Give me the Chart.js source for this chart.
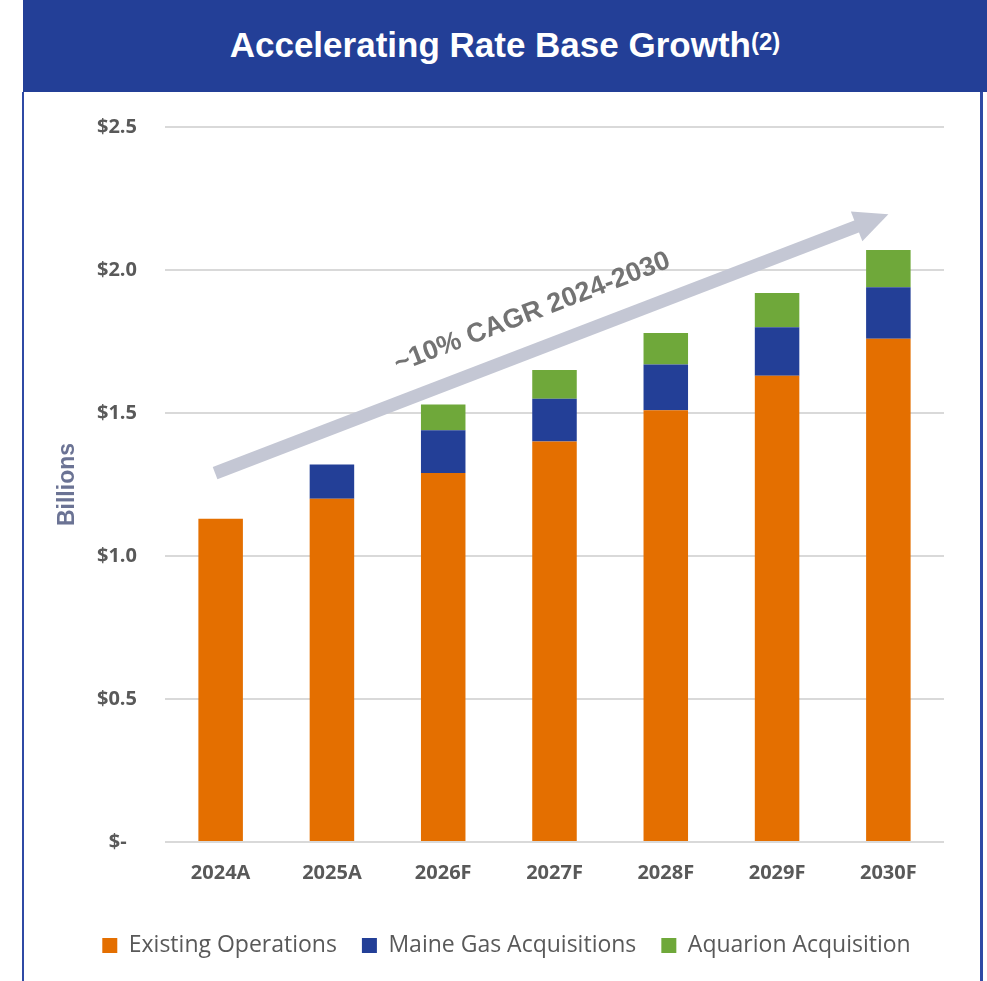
<!DOCTYPE html>
<html>
<head>
<meta charset="utf-8">
<script src="https://cdn.jsdelivr.net/npm/chart.js@4/dist/chart.umd.min.js"></script>
<style>
    html, body { margin: 0; padding: 0; background: #fff; }
    body { width: 987px; height: 981px; position: relative; overflow: hidden; }
    #header {
        position: absolute; left: 23px; top: 0; width: 964px; height: 92px;
        background: #233f97; color: #fff; text-align: center;
        font-family: "Liberation Sans", Arial, sans-serif;
        font-weight: bold; font-size: 35px; line-height: 90px;
    }
    #header sup { font-size: 24px; vertical-align: 7px; line-height: 0; }
    .edge { position: absolute; top: 92px; bottom: 0; background: #2f4aa5; }
    #edgeLeft { left: 22px; width: 2px; }
    #edgeRight { left: 980px; width: 3px; }
    #chart { position: absolute; left: 0; top: 0; }
</style>
</head>
<body>
<div id="header">Accelerating Rate Base Growth<sup>(2)</sup></div>
<div class="edge" id="edgeLeft"></div>
<div class="edge" id="edgeRight"></div>
<canvas id="chart" width="987" height="981"></canvas>

<script>
// values in $ billions
const years = ["2024A", "2025A", "2026F", "2027F", "2028F", "2029F", "2030F"];
const existingOps = [1.13, 1.20, 1.29, 1.40, 1.51, 1.63, 1.76];
const maineGas = [0, 0.12, 0.15, 0.15, 0.16, 0.17, 0.18];
const aquarion = [0, 0, 0.09, 0.10, 0.11, 0.12, 0.13];
const yTickLabels = ["$-  ", "$0.5", "$1.0", "$1.5", "$2.0", "$2.5"];

// CAGR arrow, in chart units (category index, $bn)
const arrowFrom = [-0.05, 1.29];
const arrowTo = [6.0, 2.195];
const arrowText = "~10% CAGR 2024-2030";

const cagrArrow = {
    id: "cagrArrow",
    afterDatasetsDraw(chart) {
        const { ctx, scales: { x, y } } = chart;
        const x0 = x.getPixelForValue(arrowFrom[0]), y0 = y.getPixelForValue(arrowFrom[1]);
        const x1 = x.getPixelForValue(arrowTo[0]), y1 = y.getPixelForValue(arrowTo[1]);
        const ang = Math.atan2(y1 - y0, x1 - x0);
        const len = Math.hypot(x1 - x0, y1 - y0);
        const headLen = 34, headHalf = 16, shaft = 13;

        ctx.save();
        ctx.translate(x0, y0);
        ctx.rotate(ang);
        ctx.fillStyle = "#c4c7d4";
        ctx.fillRect(0, -shaft / 2, len - headLen + 2, shaft);
        ctx.beginPath();
        ctx.moveTo(len, 0);
        ctx.lineTo(len - headLen, -headHalf);
        ctx.lineTo(len - headLen, headHalf);
        ctx.closePath();
        ctx.fill();

        // label sits above the middle of the arrow
        ctx.font = "bold 27px 'Liberation Sans', Arial, sans-serif";
        ctx.fillStyle = "#737373";
        ctx.textAlign = "center";
        ctx.textBaseline = "middle";
        ctx.fillText(arrowText, len / 2 - 7, -36);
        ctx.restore();
    }
};

const ctx = document.getElementById("chart").getContext("2d");
new Chart(ctx, {
    type: "bar",
    data: {
        labels: years,
        datasets: [
            { label: "Existing Operations", data: existingOps, backgroundColor: "#e46f00" },
            { label: "Maine Gas Acquisitions", data: maineGas, backgroundColor: "#233f97" },
            { label: "Aquarion Acquisition", data: aquarion, backgroundColor: "#6fa83a" }
        ]
    },
    options: {
        responsive: false,
        animation: false,
        devicePixelRatio: 1,
        layout: { padding: { top: 127, left: 69, right: 43, bottom: 14 } },
        datasets: { bar: { categoryPercentage: 1, barPercentage: 0.4, borderWidth: 0 } },
        plugins: {
            tooltip: { enabled: false },
            legend: {
                position: "bottom",
                labels: {
                    boxWidth: 15, boxHeight: 15, padding: 25,
                    color: "#595959",
                    font: { family: "'Open Sans', sans-serif", size: 23 }
                }
            }
        },
        scales: {
            x: {
                stacked: true,
                grid: { display: false },
                border: { display: false },
                ticks: {
                    padding: 11, color: "#595959",
                    font: { family: "'Open Sans', sans-serif", size: 20, weight: "bold" }
                },
                afterFit(scale) { scale.height = 67; }
            },
            y: {
                stacked: true,
                min: 0, max: 2.5,
                border: { display: false },
                grid: { color: "#d9d9d9", lineWidth: 2, drawTicks: false },
                ticks: {
                    stepSize: 0.5, padding: 28, color: "#595959",
                    font: { family: "'Open Sans', sans-serif", size: 20, weight: "bold" },
                    callback: (v, i) => yTickLabels[i]
                },
                title: {
                    display: true, text: "Billions", color: "#6b7394",
                    padding: { top: -15, bottom: 4 },
                    font: { family: "'Liberation Sans', Arial, sans-serif", size: 23, weight: "bold" }
                },
                afterFit(scale) { scale.width = 96; }
            }
        }
    },
    plugins: [cagrArrow]
});
</script>
</body>
</html>
